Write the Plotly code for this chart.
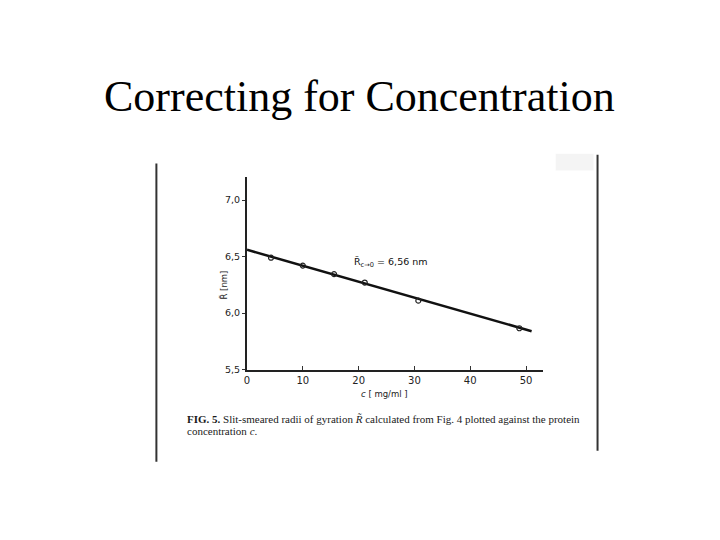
import plotly.graph_objects as go

# Data
conc = [4.3, 10.0, 15.6, 21.1, 30.7, 48.8]          # c [mg/ml]
radius = [6.49, 6.42, 6.345, 6.27, 6.11, 5.866]      # R [nm]
fit_conc = [0, 51]
fit_radius = [6.56, 5.84]

y_tickvals = [5.5, 6.0, 6.5, 7.0]
y_ticktext = ["5,5", "6,0", "6,5", "7,0"]
x_tickvals = [0, 10, 20, 30, 40, 50]
x_ticktext = ["0", "10", "20", "30", "40", "50"]

W, H = 720, 540
OFF = 8  # page body margin offset

def px(x):
    return (x - OFF) / W

def py(y):
    return 1 - (y - OFF) / H

fig = go.Figure()
fig.add_trace(go.Scatter(x=fit_conc, y=fit_radius, mode="lines",
                         line=dict(color="#111111", width=2.5), showlegend=False,
                         hoverinfo="skip"))
fig.add_trace(go.Scatter(x=conc, y=radius, mode="markers",
                         marker=dict(symbol="circle-open", size=5, color="#222222",
                                     line=dict(width=1.2, color="#222222")),
                         showlegend=False))

fig.update_layout(
    width=W, height=H,
    margin=dict(l=0, r=0, t=0, b=0),
    paper_bgcolor="white", plot_bgcolor="white",
    xaxis=dict(domain=[px(245), px(542)], range=[0, 53], showgrid=False, zeroline=False,
               showline=True, linecolor="#222222", linewidth=2,
               ticks="inside", ticklen=4, tickcolor="#333333", tickwidth=1,
               tickvals=x_tickvals, ticktext=x_ticktext,
               tickfont=dict(family="DejaVu Sans", size=10, color="#222222")),
    yaxis=dict(domain=[py(373), py(179)], range=[5.5, 7.2], showgrid=False, zeroline=False,
               showline=True, linecolor="#222222", linewidth=2,
               ticks="outside", ticklen=3, tickcolor="#333333", tickwidth=1,
               tickvals=y_tickvals, ticktext=y_ticktext,
               tickfont=dict(family="DejaVu Sans", size=9.5, color="#222222")),
)

annotations = [
    dict(text="Correcting for Concentration", x=px(358), y=py(97), xref="paper", yref="paper",
         showarrow=False, font=dict(family="Liberation Serif", size=44, color="black"),
         xanchor="center", yanchor="middle"),
    dict(text="R\u0303 [nm]", x=px(222), y=py(288), xref="paper", yref="paper", textangle=-90,
         showarrow=False, font=dict(family="DejaVu Sans", size=8.5, color="#222222"),
         xanchor="center", yanchor="middle"),
    dict(text="<i>c</i> [ mg/ml ]", x=px(383), y=py(398), xref="paper", yref="paper",
         showarrow=False, font=dict(family="DejaVu Sans", size=8.5, color="#222222"),
         xanchor="center", yanchor="middle"),
    dict(text="R\u0303<sub>c\u21920</sub> = 6,56 nm", x=px(350), y=py(265), xref="paper", yref="paper",
         showarrow=False, font=dict(family="DejaVu Sans", size=9.5, color="#111111"),
         xanchor="left", yanchor="middle"),
    dict(text="<b>FIG. 5.</b> Slit-smeared radii of gyration <i>R\u0303</i> calculated from Fig. 4 plotted against the protein",
         x=px(183), y=py(423), xref="paper", yref="paper",
         showarrow=False, font=dict(family="Liberation Serif", size=11, color="#1a1a1a"),
         xanchor="left", yanchor="middle"),
    dict(text="concentration <i>c</i>.", x=px(183), y=py(435), xref="paper", yref="paper",
         showarrow=False, font=dict(family="Liberation Serif", size=11, color="#1a1a1a"),
         xanchor="left", yanchor="middle"),
]
fig.update_layout(annotations=annotations)

shapes = [
    dict(type="line", xref="paper", yref="paper", x0=px(154), x1=px(154), y0=py(165), y1=py(466),
         line=dict(color="#333333", width=2)),
    dict(type="line", xref="paper", yref="paper", x0=px(597), x1=px(597), y0=py(156), y1=py(455),
         line=dict(color="#333333", width=2)),
    dict(type="rect", xref="paper", yref="paper", x0=px(555), x1=px(593), y0=py(155), y1=py(172),
         line=dict(width=0), fillcolor="rgba(200,200,200,0.2)"),
]
fig.update_layout(shapes=shapes)

fig.write_html("out.html")
